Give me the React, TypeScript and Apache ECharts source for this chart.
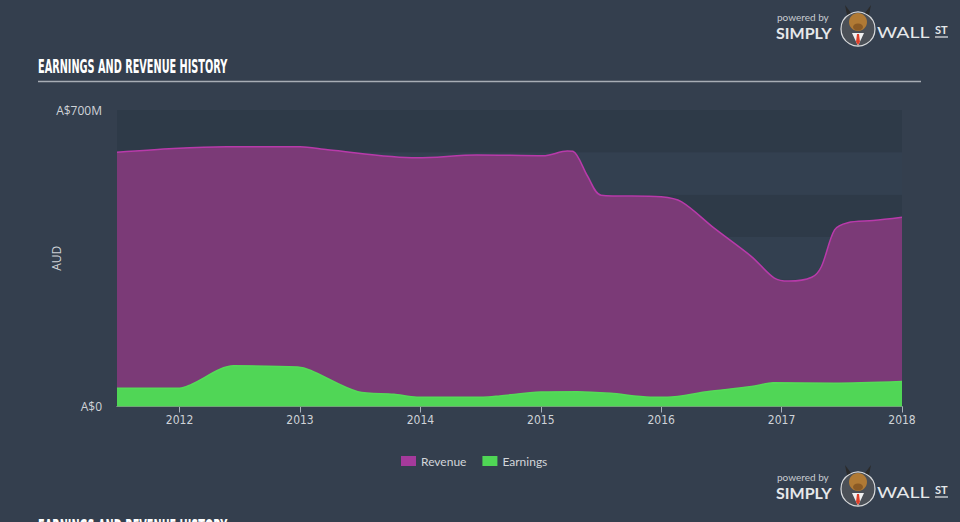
import React, { useEffect, useRef } from "react";
import * as echarts from "echarts";

const xTickYears = [2012, 2013, 2014, 2015, 2016, 2017, 2018];
const yTickValues = [0, 700];

const revenueYears = [2011.48, 2011.95, 2012.39, 2013.0, 2013.23, 2013.97, 2014.47, 2015.02, 2015.22, 2015.27, 2015.39, 2015.5, 2016.0, 2016.17, 2016.44, 2016.75, 2016.94, 2017.06, 2017.25, 2017.33, 2017.44, 2017.55, 2017.76, 2018.0];
const revenueValues = [600, 609, 613, 613, 606, 587, 594, 592, 603, 602, 543, 499, 495, 483, 421, 354, 303, 296, 305, 330, 417, 434, 439, 447];

const earningsYears = [2011.48, 2012.0, 2012.09, 2012.45, 2012.98, 2013.09, 2013.48, 2013.78, 2013.97, 2014.52, 2014.66, 2015.0, 2015.3, 2015.58, 2015.91, 2016.05, 2016.38, 2016.75, 2016.93, 2017.43, 2018.0];
const earningsValues = [43, 43, 51, 96, 93, 85, 35, 29, 22, 22, 25, 34, 35, 31, 22, 22, 35, 47, 56, 55, 59];

const TITLE = "EARNINGS AND REVENUE HISTORY";
const BG = "#343f4e";
const TITLE_FONT = 'bold 19px "DejaVu Sans Condensed", "DejaVu Sans", sans-serif';

function logo(dy: number) {
  return {
    type: "group",
    x: 0,
    y: dy,
    children: [
      { type: "text", x: 777, y: 12, style: { text: "powered by", font: '10px "Lato", sans-serif', fill: "#c9cdd2", verticalAlign: "top" } },
      { type: "text", x: 776, y: 24, style: { text: "SIMPLY", font: 'bold 16px "Lato", sans-serif', fill: "#e6e8ea", verticalAlign: "top" } },
      { type: "circle", shape: { cx: 858, cy: 29, r: 17 }, style: { fill: "#4b5057", stroke: "#d8dadc", lineWidth: 1.2 } },
      { type: "polygon", shape: { points: [[847, 15], [845, 5], [851, 13]] }, style: { fill: "#2b2b2b" } },
      { type: "polygon", shape: { points: [[869, 15], [871, 5], [865, 13]] }, style: { fill: "#2b2b2b" } },
      { type: "ellipse", shape: { cx: 858, cy: 22, rx: 9, ry: 9 }, style: { fill: "#b07a35" } },
      { type: "ellipse", shape: { cx: 858, cy: 27, rx: 5, ry: 3.5 }, style: { fill: "#8a5a25" } },
      { type: "polygon", shape: { points: [[852, 33], [858, 46], [864, 33]] }, style: { fill: "#f1f1f1" } },
      { type: "polygon", shape: { points: [[857, 34], [856, 42], [858, 45], [860, 42], [859, 34]] }, style: { fill: "#e0402a" } },
      { type: "text", x: 877, y: 24, scaleX: 1.22, style: { text: "WALL", font: '16px "Lato", sans-serif', fill: "#e6e8ea", verticalAlign: "top" } },
      { type: "text", x: 935, y: 24, style: { text: "ST", font: 'bold 11px "Lato", sans-serif', fill: "#e6e8ea", verticalAlign: "top" } },
      { type: "line", shape: { x1: 935, y1: 37, x2: 948, y2: 37 }, style: { stroke: "#e6e8ea", lineWidth: 1.2 } },
    ],
  };
}

export default function App() {
  const ref = useRef<HTMLDivElement>(null);

  useEffect(() => {
    document.body.style.margin = "0";
    const chart = echarts.init(ref.current!, undefined, { renderer: "svg" });
    const revenueData = revenueYears.map((x, i) => [x, revenueValues[i]]);
    const earningsData = earningsYears.map((x, i) => [x, earningsValues[i]]);

    chart.setOption({
      animation: false,
      backgroundColor: BG,
      grid: { left: 117, right: 58, top: 110, bottom: 115.5, containLabel: false },
      legend: {
        left: 396,
        top: 450,
        itemWidth: 15,
        itemHeight: 10,
        itemGap: 16,
        icon: "rect",
        textStyle: { color: "#d3d6da", fontSize: 12, fontFamily: '"Lato", sans-serif' },
        data: ["Revenue", "Earnings"],
      },
      xAxis: {
        type: "value",
        min: revenueYears[0],
        max: revenueYears[revenueYears.length - 1],
        splitNumber: 6,
        minInterval: 1,
        maxInterval: 1,
        splitLine: { show: false },
        axisLine: { show: true, onZero: false, lineStyle: { color: "#aab1ba", width: 1 } },
        axisTick: { show: true, length: 6, customValues: xTickYears, lineStyle: { color: "#aab1ba" } },
        axisLabel: {
          customValues: xTickYears,
          color: "#cfd3d8",
          fontSize: 12,
          margin: 7,
          fontFamily: '"Liberation Sans Narrow", "DejaVu Sans Condensed", sans-serif',
          formatter: (v: number) => String(Math.round(v)),
        },
      },
      yAxis: {
        type: "value",
        min: 0,
        max: 700,
        interval: 100,
        name: "AUD",
        nameLocation: "middle",
        nameGap: 55,
        nameMoveOverlap: false,
        nameRotate: 90,
        nameTextStyle: { color: "#cfd3d8", fontSize: 12, fontFamily: '"Open Sans", sans-serif' },
        axisLine: { show: false },
        axisTick: { show: false },
        splitLine: { show: false },
        splitArea: { show: true, areaStyle: { color: ["#2e3a48", "#334050"] } },
        axisLabel: {
          customValues: yTickValues,
          color: "#cfd3d8",
          fontSize: 12,
          margin: 15,
          fontFamily: '"Open Sans", sans-serif',
          formatter: (v: number) => (v === 0 ? "A$0" : "A$" + v + "M"),
        },
      },
      series: [
        {
          name: "Revenue",
          type: "line",
          data: revenueData,
          smooth: 0.3,
          showSymbol: false,
          symbol: "none",
          itemStyle: { color: "#a53a9b" },
          lineStyle: { color: "#b83aaa", width: 1.5 },
          areaStyle: { color: "#7b3a77", opacity: 1 },
          z: 2,
        },
        {
          name: "Earnings",
          type: "line",
          data: earningsData,
          smooth: 0.3,
          showSymbol: false,
          symbol: "none",
          itemStyle: { color: "#4fd655" },
          lineStyle: { color: "#55db58", width: 1.5 },
          areaStyle: { color: "#50d656", opacity: 1 },
          z: 3,
        },
      ],
      graphic: [
        { type: "text", x: 38, y: 67, scaleX: 0.57, style: { text: TITLE, font: TITLE_FONT, fill: "#ffffff", verticalAlign: "middle" } },
        { type: "line", shape: { x1: 38, y1: 81.5, x2: 921, y2: 81.5 }, style: { stroke: "#a7adb5", lineWidth: 1.5 } },
        logo(0),
        logo(460),
        { type: "text", x: 38, y: 527, scaleX: 0.57, style: { text: TITLE, font: TITLE_FONT, fill: "#ffffff", verticalAlign: "middle" } },
      ],
    });
    return () => chart.dispose();
  }, []);

  return <div ref={ref} style={{ position: "fixed", left: 0, top: 0, width: 960, height: 522 }} />;
}
